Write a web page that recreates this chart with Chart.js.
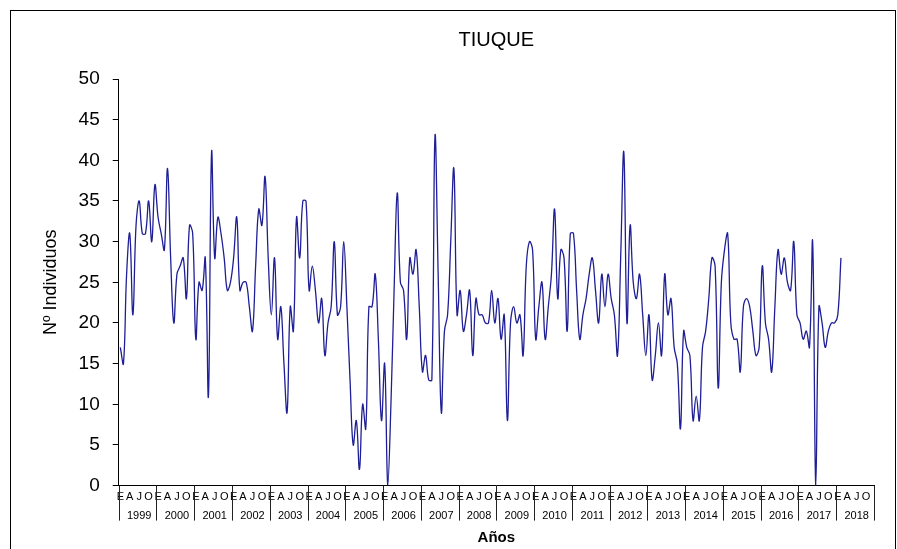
<!DOCTYPE html>
<html>
<head>
<meta charset="utf-8">
<script src="https://cdn.jsdelivr.net/npm/chart.js@4.4.1/dist/chart.umd.min.js"></script>
<style>
  html, body { margin: 0; padding: 0; overflow: hidden; background: #fff; }
  #wrap { position: relative; width: 897px; height: 549px; }
  #frame { position: absolute; left: 10px; top: 10px; width: 886px; height: 600px; border: 1px solid #000; box-sizing: border-box; }
  canvas { position: absolute; left: 0; top: 0; }
</style>
</head>
<body>
<div id="wrap">
  <div id="frame"></div>
  <canvas id="chart" width="897" height="549"></canvas>
</div>
<script>
// monthly counts, one array per year
const y1999 = [17, 15, 26, 31, 21, 32, 35, 31, 31, 35, 30, 37];
const y2000 = [33, 31, 29, 39, 28, 20, 26, 27, 28, 23, 32, 31];
const y2001 = [18, 25, 24, 28, 11, 41, 28, 33, 31, 28, 24, 25];
const y2002 = [28, 33, 24, 25, 25, 22, 19, 27, 34, 32, 38, 28];
const y2003 = [21, 28, 18, 22, 15, 9, 22, 19, 33, 28, 35, 35];
const y2004 = [24, 27, 24, 20, 23, 16, 20, 22, 30, 21, 22, 30];
const y2005 = [22, 13, 5, 8, 2, 10, 7, 22, 22, 26, 18, 8];
const y2006 = [15, 0, 10, 24, 36, 25, 24, 18, 28, 26, 29, 22];
const y2007 = [14, 16, 13, 13, 43, 26, 9, 19, 21, 30, 39, 21];
const y2008 = [24, 19, 21, 24, 16, 23, 21, 21, 20, 20, 24, 20];
const y2009 = [23, 18, 21, 8, 20, 22, 20, 21, 16, 27, 30, 29];
const y2010 = [18, 22, 25, 18, 22, 26, 34, 23, 29, 28, 19, 31];
const y2011 = [31, 24, 18, 21, 23, 26, 28, 24, 20, 26, 22, 26];
const y2012 = [23, 21, 16, 28, 41, 20, 32, 25, 23, 26, 21, 16];
const y2013 = [21, 13, 16, 20, 16, 26, 21, 23, 17, 15, 7, 19];
const y2014 = [17, 16, 8, 11, 8, 17, 19, 23, 28, 27, 12, 25];
const y2015 = [29, 31, 20, 18, 18, 14, 22, 23, 22, 19, 16, 17];
const y2016 = [27, 20, 18, 14, 22, 29, 26, 28, 25, 24, 30, 21];
const y2017 = [20, 18, 19, 17, 30, 0, 22, 20, 17, 19, 20, 20];
const y2018 = [21, 28];

const years = [1999, 2000, 2001, 2002, 2003, 2004, 2005, 2006, 2007, 2008,
               2009, 2010, 2011, 2012, 2013, 2014, 2015, 2016, 2017, 2018];
const monthLetters = ['E', 'F', 'M', 'A', 'M', 'J', 'J', 'A', 'S', 'O', 'N', 'D'];
const shownMonths = [0, 3, 6, 9];

const values = [].concat(y1999, y2000, y2001, y2002, y2003, y2004, y2005, y2006, y2007,
  y2008, y2009, y2010, y2011, y2012, y2013, y2014, y2015, y2016, y2017, y2018);

let labels = [];
years.forEach(y => monthLetters.forEach(m => labels.push(m + ' ' + y)));

const font = "'Liberation Sans', Arial, sans-serif";

// vertical separators between years under the x axis
const yearLines = {
  id: 'yearLines',
  afterDraw(chart) {
    const xs = chart.scales.x;
    const ctx = chart.ctx;
    const half = (xs.getPixelForValue(1) - xs.getPixelForValue(0)) / 2;
    const bottom = chart.chartArea.bottom;
    ctx.save();
    ctx.strokeStyle = '#222';
    ctx.lineWidth = 1;
    for (let i = 0; i <= years.length; i++) {
      let x;
      if (i < years.length) x = xs.getPixelForValue(i * 12) - half;
      else x = xs.getPixelForValue(labels.length - 1) + half;
      x = Math.round(x) + 0.5;
      ctx.beginPath();
      ctx.moveTo(x, bottom);
      ctx.lineTo(x, bottom + 35);
      ctx.stroke();
    }
    ctx.restore();
  }
};

new Chart(document.getElementById('chart'), {
  type: 'line',
  data: {
    labels: labels,
    datasets: [{
      data: values,
      borderColor: '#1e1e96',
      borderWidth: 1.3,
      pointRadius: 0,
      tension: 0.4,
      fill: false
    }]
  },
  options: {
    responsive: false,
    animation: false,
    layout: { padding: { left: 20, right: 23, top: 10, bottom: 2 } },
    plugins: {
      legend: { display: false },
      tooltip: { enabled: false },
      title: {
        display: true,
        fullSize: false,
        text: 'TIUQUE',
        color: '#000',
        font: { family: font, size: 20, weight: 'normal' },
        padding: { top: 18, bottom: 27 }
      }
    },
    scales: {
      x: {
        type: 'category',
        offset: true,
        grid: { display: false, drawTicks: false },
        border: { display: true, color: '#000', width: 1 },
        ticks: {
          autoSkip: false,
          maxRotation: 0,
          minRotation: 0,
          padding: 2,
          color: '#000',
          font: { family: font, size: 11, lineHeight: 1.7 },
          callback: function (val, i) {
            const m = i % 12;
            if (shownMonths.indexOf(m) < 0) return '';
            if (m === 6) return [monthLetters[m], String(years[Math.floor(i / 12)])];
            return monthLetters[m];
          }
        },
        title: {
          display: true,
          text: 'Años',
          color: '#000',
          font: { family: font, size: 15, weight: 'bold' },
          padding: { top: 2, bottom: 0 }
        }
      },
      y: {
        min: 0,
        max: 50,
        ticks: {
          stepSize: 5,
          padding: 13,
          color: '#000',
          font: { family: font, size: 19 }
        },
        grid: { display: true, drawOnChartArea: false, drawTicks: true, tickLength: 6, color: '#000' },
        border: { display: true, color: '#000', width: 1 },
        title: {
          display: true,
          text: 'Nº Individuos',
          color: '#000',
          font: { family: font, size: 18 },
          padding: { top: 20, bottom: 4 }
        }
      }
    }
  },
  plugins: [yearLines]
});
</script>
</body>
</html>
